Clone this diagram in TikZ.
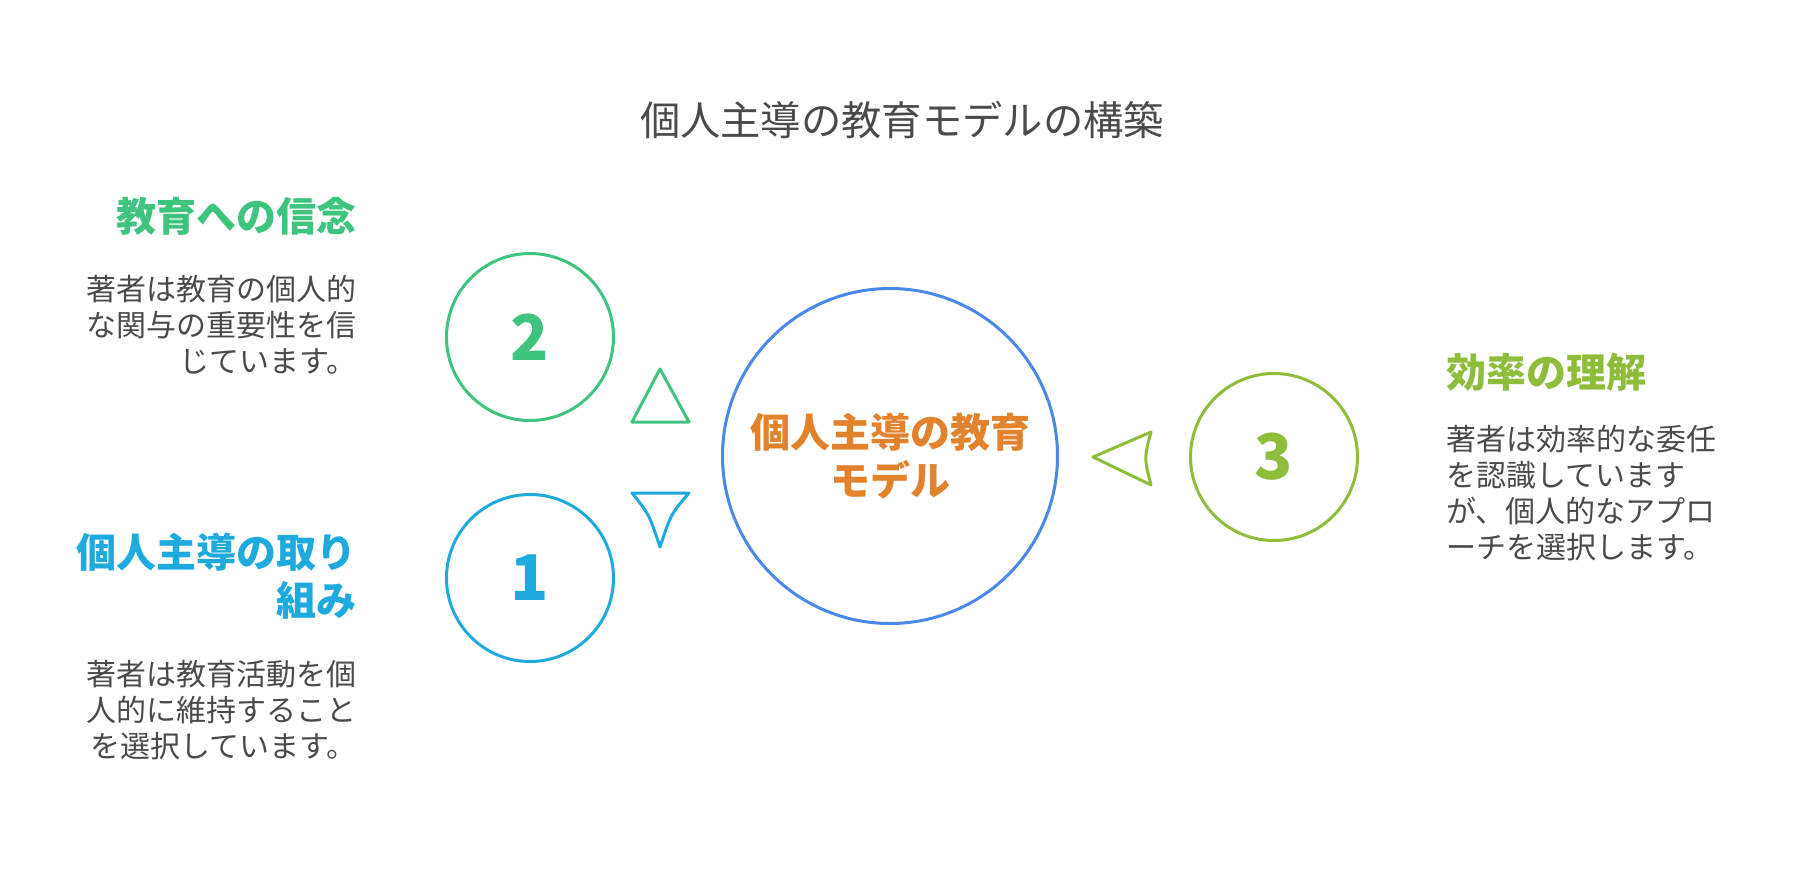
\documentclass[tikz,border=0pt]{standalone}
\usepackage{fontspec}
\setmainfont{Noto Sans CJK JP}
\newfontfamily\jp{Noto Sans CJK JP}
\definecolor{cgreen}{RGB}{62,196,126}
\definecolor{cblue}{RGB}{30,170,221}
\definecolor{colive}{RGB}{143,188,59}
\definecolor{cmain}{RGB}{74,137,232}
\definecolor{corange}{RGB}{227,130,44}
\definecolor{ctext}{RGB}{74,74,74}
\begin{document}
\begin{tikzpicture}[x=1pt,y=-1pt,
  titletext/.style={inner sep=0pt, text=ctext, font=\jp\fontsize{40.3}{48}\selectfont},
  maintext/.style={inner sep=0pt, align=center, text=corange, font=\jp\bfseries\fontsize{40}{48}\selectfont},
  headtext/.style={inner sep=0pt, font=\jp\bfseries\fontsize{40}{48}\selectfont},
  bodytext/.style={inner sep=0pt, text=ctext, font=\jp\fontsize{30}{36}\selectfont},
  numcirc/.style={circle, line width=3pt, minimum size=167pt, inner sep=0pt, font=\jp\bfseries\fontsize{63}{63}\selectfont},
  tri/.style={line width=3pt, line join=round}
]
\useasboundingbox (0,0) rectangle (1804,868);

\node[titletext] (title) at (902,120) {個人主導の教育モデルの構築};

\node[circle, draw=cmain, line width=3pt, minimum size=335pt] (main) at (890,456) {};
\node[maintext] (maintxt) at (890,456) {個人主導の教育\\モデル};

\node[numcirc, draw=cgreen, text=cgreen] (c2) at (530,337) {2};
\node[numcirc, draw=cblue, text=cblue] (c1) at (530,578) {1};
\node[numcirc, draw=colive, text=colive] (c3) at (1274,457) {3};

\draw[tri, draw=cgreen] (660,369) -- (689,422) -- (632,422) -- cycle;
\draw[tri, draw=cblue] (632,493) -- (689,493) .. controls (671,514) .. (660,547) .. controls (649,514) .. (632,493) -- cycle;
\draw[tri, draw=colive] (1093,457) -- (1151,432) .. controls (1144,458) .. (1151,485) -- cycle;

\node[headtext, text=cgreen, anchor=east] (h2) at (357,216) {教育への信念};
\node[bodytext, anchor=east, align=right] (b2) at (357,325) {著者は教育の個人的\\な関与の重要性を信\\じています。};

\node[headtext, text=cblue, anchor=east, align=right] (h1) at (357,576) {個人主導の取り\\組み};
\node[bodytext, anchor=east, align=right] (b1) at (357,710) {著者は教育活動を個\\人的に維持すること\\を選択しています。};

\node[headtext, text=colive, anchor=west] (h3) at (1446,372) {効率の理解};
\node[bodytext, anchor=west, align=left] (b3) at (1446,493) {著者は効率的な委任\\を認識しています\\が、個人的なアプロ\\ーチを選択します。};
\end{tikzpicture}
\end{document}
